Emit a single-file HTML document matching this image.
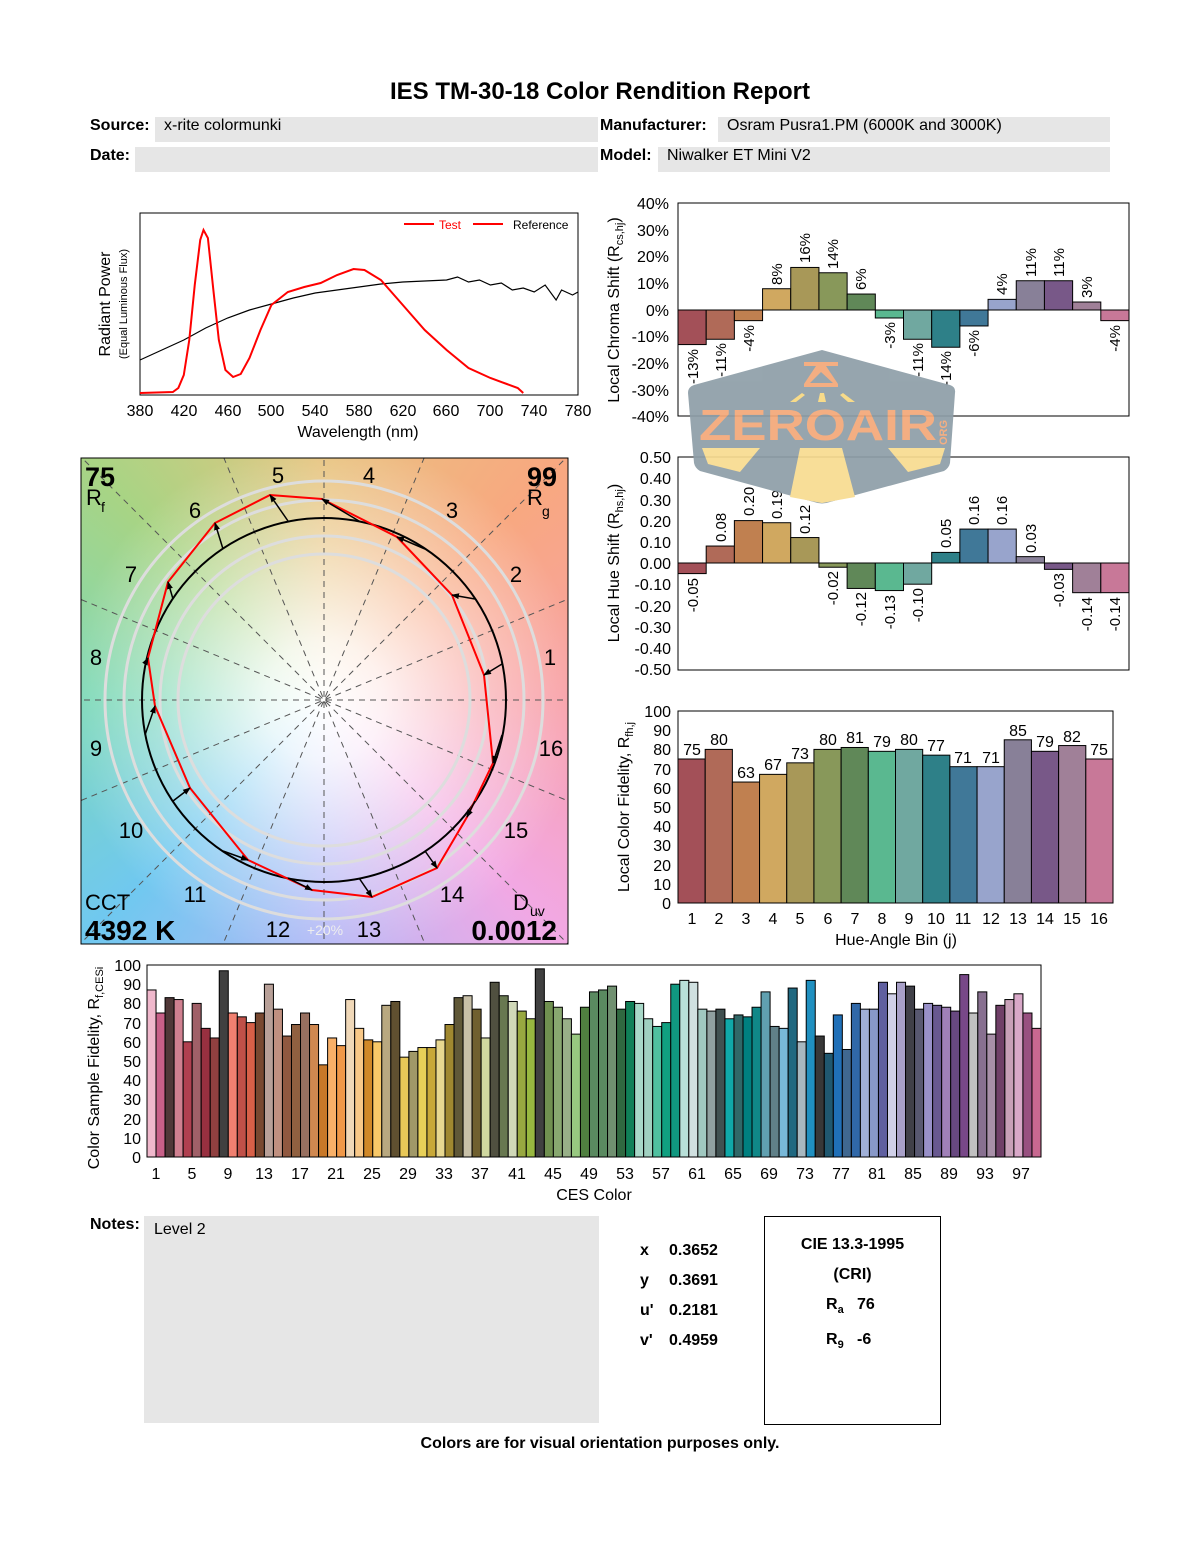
<!DOCTYPE html>
<html><head><meta charset="utf-8"><style>
body{margin:0;background:#fff;}
#p{position:relative;width:1200px;height:1550px;font-family:"Liberation Sans",sans-serif;color:#000;overflow:hidden}
.a{position:absolute;white-space:nowrap}
.box{position:absolute;background:#e6e6e6}
#vg{position:absolute;left:81px;top:458px;width:487px;height:486px;
background:radial-gradient(circle at 50% 50%,rgba(255,255,255,1) 0px,rgba(255,255,255,0.85) 60px,rgba(255,255,255,0.35) 170px,rgba(255,255,255,0) 260px),
conic-gradient(from 0deg at 50% 50%,#e8c480 0deg,#f8a880 45deg,#f8a0a8 90deg,#f2a8e4 135deg,#b4b8f6 180deg,#70c8f0 225deg,#7cd8b8 270deg,#a8d484 315deg,#e8c480 360deg);}
</style></head><body><div id="p">
<div class="a" style="left:0;width:1200px;text-align:center;top:78px;font-size:24px;font-weight:bold">IES TM-30-18 Color Rendition Report</div>
<div class="box" style="left:155px;top:117px;width:443px;height:25px"></div>
<div class="box" style="left:718px;top:117px;width:392px;height:25px"></div>
<div class="box" style="left:135px;top:147px;width:463px;height:25px"></div>
<div class="box" style="left:658px;top:147px;width:452px;height:25px"></div>
<div class="a" style="left:90px;top:117px;font-size:16px;font-weight:bold">Source:</div>
<div class="a" style="left:164px;top:117px;font-size:16px">x-rite colormunki</div>
<div class="a" style="left:600px;top:117px;font-size:16px;font-weight:bold">Manufacturer:</div>
<div class="a" style="left:727px;top:117px;font-size:16px">Osram Pusra1.PM (6000K and 3000K)</div>
<div class="a" style="left:90px;top:147px;font-size:16px;font-weight:bold">Date:</div>
<div class="a" style="left:600px;top:147px;font-size:16px;font-weight:bold">Model:</div>
<div class="a" style="left:667px;top:147px;font-size:16px">Niwalker ET Mini V2</div>

<div id="vg"></div>

<svg width="1200" height="1550" style="position:absolute;left:0;top:0" font-family="Liberation Sans, sans-serif">
<defs>
<marker id="ah" markerWidth="8" markerHeight="8" refX="7" refY="4" orient="auto" markerUnits="userSpaceOnUse"><path d="M0,1 L8,4 L0,7 z" fill="#000"/></marker>
<clipPath id="vc"><rect x="81" y="458" width="487" height="486"/></clipPath>
</defs>
<!-- spectrum -->
<rect x="140" y="213" width="438" height="182" fill="none" stroke="#000" stroke-width="1"/>
<g transform="translate(-276.1,0) scale(1.095,1)" fill="none">
<polyline vector-effect="non-scaling-stroke" stroke="#000" stroke-width="1.2" points="380,360 400,350 420,340 440,328 460,318 480,310 500,304 520,298 540,293 560,290 580,287 600,284 620,282 640,281 660,280 670,277 680,282 690,280 700,285 710,283 720,290 730,288 740,292 750,285 760,300 765,290 775,295 780,292"/>
<polyline vector-effect="non-scaling-stroke" stroke="#f00" stroke-width="2" points="380,393 410,392 415,388 420,375 425,340 430,285 435,240 438,230 442,238 447,290 452,340 458,370 465,377 472,374 480,358 490,330 500,305 515,292 530,287 545,283 560,275 575,269 585,270 600,280 620,305 640,330 660,350 680,368 700,378 715,384 725,388 730,393"/>
</g>
<line x1="404" y1="224" x2="434" y2="224" stroke="#f00" stroke-width="2"/><text x="439" y="229" font-size="12" fill="#f00">Test</text>
<line x1="473" y1="224" x2="503" y2="224" stroke="#f00" stroke-width="2"/><text x="513" y="229" font-size="12">Reference</text>
<g font-size="16" text-anchor="middle">
<text x="140" y="416">380</text><text x="184" y="416">420</text><text x="228" y="416">460</text><text x="271" y="416">500</text><text x="315" y="416">540</text><text x="359" y="416">580</text><text x="403" y="416">620</text><text x="446" y="416">660</text><text x="490" y="416">700</text><text x="534" y="416">740</text><text x="578" y="416">780</text>
<text x="358" y="437">Wavelength (nm)</text>
<text transform="translate(110,304) rotate(-90)">Radiant Power</text>
<text transform="translate(127,304) rotate(-90)" font-size="11">(Equal Luminous Flux)</text>
</g>

<!-- vector graphic -->
<g clip-path="url(#vc)">
<g stroke="#555" stroke-width="1" stroke-dasharray="6,5">
<line x1="-26" y1="700" x2="674" y2="700"/><line x1="324" y1="350" x2="324" y2="1050"/>
<line x1="0" y1="566" x2="648" y2="834"/><line x1="0" y1="834" x2="648" y2="566"/>
<line x1="190" y1="376" x2="458" y2="1024"/><line x1="458" y1="376" x2="190" y2="1024"/>
<line x1="77" y1="453" x2="571" y2="947"/><line x1="571" y1="453" x2="77" y2="947"/>
</g>
<g fill="none" stroke="#ddd" stroke-width="3">
<circle cx="324" cy="700" r="146"/><circle cx="324" cy="700" r="164"/><circle cx="324" cy="700" r="200"/><circle cx="324" cy="700" r="219"/>
</g>
<circle cx="324" cy="700" r="182" fill="none" stroke="#000" stroke-width="2"/>
<polygon fill="none" stroke="#f00" stroke-width="2" points="484,675 452,595 397,537 322,499 270,495 215,523 168,582 148,658 155,706 190,788 248,860 312,890 372,897 437,868 467,817 493,763"/>
<g stroke="#000" stroke-width="1.5" marker-end="url(#ah)">
<line x1="502" y1="664" x2="484" y2="675"/><line x1="475" y1="599" x2="452" y2="595"/><line x1="425" y1="549" x2="397" y2="537"/><line x1="359" y1="521" x2="322" y2="499"/><line x1="288" y1="521" x2="270" y2="495"/><line x1="223" y1="549" x2="215" y2="523"/><line x1="173" y1="599" x2="168" y2="582"/><line x1="145" y1="664" x2="148" y2="658"/><line x1="145" y1="735" x2="155" y2="706"/><line x1="173" y1="801" x2="190" y2="788"/><line x1="223" y1="851" x2="248" y2="860"/><line x1="288" y1="878" x2="312" y2="890"/><line x1="359" y1="878" x2="372" y2="897"/><line x1="425" y1="851" x2="437" y2="868"/><line x1="475" y1="801" x2="467" y2="817"/><line x1="502" y1="735" x2="493" y2="763"/>
</g>
</g>
<rect x="81" y="458" width="487" height="486" fill="none" stroke="#000" stroke-width="1"/>
<g font-size="22" text-anchor="middle">
<text x="550" y="665">1</text><text x="516" y="582">2</text><text x="452" y="518">3</text><text x="369" y="483">4</text><text x="278" y="483">5</text><text x="195" y="518">6</text><text x="131" y="582">7</text><text x="96" y="665">8</text><text x="96" y="756">9</text><text x="131" y="838">10</text><text x="195" y="902">11</text><text x="278" y="937">12</text><text x="369" y="937">13</text><text x="452" y="902">14</text><text x="516" y="838">15</text><text x="551" y="756">16</text>
</g>
<text x="325" y="935" font-size="14" fill="#eee" text-anchor="middle">+20%</text>
<text x="85" y="486" font-size="27" font-weight="bold">75</text>
<text x="86" y="505" font-size="22">R</text><text x="101" y="512" font-size="14">f</text>
<text x="557" y="486" font-size="27" font-weight="bold" text-anchor="end">99</text>
<text x="527" y="505" font-size="22">R</text><text x="542" y="516" font-size="14">g</text>
<text x="85" y="910" font-size="22">CCT</text>
<text x="85" y="940" font-size="28" font-weight="bold">4392 K</text>
<text x="513" y="910" font-size="22">D</text><text x="530" y="916" font-size="14">uv</text>
<text x="557" y="940" font-size="28" font-weight="bold" text-anchor="end">0.0012</text>

<!-- chroma shift -->
<g id="cs"></g>
<rect x="678" y="203" width="451" height="213" fill="none" stroke="#000"/>
<line x1="678" y1="310" x2="1129" y2="310" stroke="#000"/>
<g font-size="16" text-anchor="end">
<text x="669" y="209">40%</text><text x="669" y="236">30%</text><text x="669" y="262">20%</text><text x="669" y="289">10%</text><text x="669" y="316">0%</text><text x="669" y="342">-10%</text><text x="669" y="369">-20%</text><text x="669" y="396">-30%</text><text x="669" y="422">-40%</text>
</g>
<text transform="translate(619,310) rotate(-90)" font-size="16" text-anchor="middle">Local Chroma Shift (R<tspan font-size="11" dy="4">cs,hj</tspan><tspan dy="-4">)</tspan></text>
<g font-size="15">
<text transform="translate(698,349) rotate(-90)" text-anchor="end">-13%</text>
<text transform="translate(726,343) rotate(-90)" text-anchor="end">-11%</text>
<text transform="translate(754,325) rotate(-90)" text-anchor="end">-4%</text>
<text transform="translate(782,285) rotate(-90)">8%</text>
<text transform="translate(810,263) rotate(-90)">16%</text>
<text transform="translate(838,269) rotate(-90)">14%</text>
<text transform="translate(866,290) rotate(-90)">6%</text>
<text transform="translate(895,322) rotate(-90)" text-anchor="end">-3%</text>
<text transform="translate(923,343) rotate(-90)" text-anchor="end">-11%</text>
<text transform="translate(951,351) rotate(-90)" text-anchor="end">-14%</text>
<text transform="translate(979,330) rotate(-90)" text-anchor="end">-6%</text>
<text transform="translate(1007,295) rotate(-90)">4%</text>
<text transform="translate(1036,277) rotate(-90)">11%</text>
<text transform="translate(1064,277) rotate(-90)">11%</text>
<text transform="translate(1092,298) rotate(-90)">3%</text>
<text transform="translate(1120,325) rotate(-90)" text-anchor="end">-4%</text>
</g>

<!-- hue shift -->
<g id="hs"></g>
<rect x="678" y="457" width="451" height="213" fill="none" stroke="#000"/>
<line x1="678" y1="563" x2="1129" y2="563" stroke="#000"/>
<g font-size="16" text-anchor="end">
<text x="671" y="463">0.50</text><text x="671" y="484">0.40</text><text x="671" y="506">0.30</text><text x="671" y="527">0.20</text><text x="671" y="548">0.10</text><text x="671" y="569">0.00</text><text x="671" y="590">-0.10</text><text x="671" y="612">-0.20</text><text x="671" y="633">-0.30</text><text x="671" y="654">-0.40</text><text x="671" y="675">-0.50</text>
</g>
<text transform="translate(619,563) rotate(-90)" font-size="16" text-anchor="middle">Local Hue Shift (R<tspan font-size="11" dy="4">hs,hj</tspan><tspan dy="-4">)</tspan></text>
<g font-size="15">
<text transform="translate(698,578) rotate(-90)" text-anchor="end">-0.05</text>
<text transform="translate(726,542) rotate(-90)">0.08</text>
<text transform="translate(754,516) rotate(-90)">0.20</text>
<text transform="translate(782,519) rotate(-90)">0.19</text>
<text transform="translate(810,534) rotate(-90)">0.12</text>
<text transform="translate(838,571) rotate(-90)" text-anchor="end">-0.02</text>
<text transform="translate(866,592) rotate(-90)" text-anchor="end">-0.12</text>
<text transform="translate(895,595) rotate(-90)" text-anchor="end">-0.13</text>
<text transform="translate(923,588) rotate(-90)" text-anchor="end">-0.10</text>
<text transform="translate(951,548) rotate(-90)">0.05</text>
<text transform="translate(979,525) rotate(-90)">0.16</text>
<text transform="translate(1007,525) rotate(-90)">0.16</text>
<text transform="translate(1036,553) rotate(-90)">0.03</text>
<text transform="translate(1064,573) rotate(-90)" text-anchor="end">-0.03</text>
<text transform="translate(1092,597) rotate(-90)" text-anchor="end">-0.14</text>
<text transform="translate(1120,597) rotate(-90)" text-anchor="end">-0.14</text>
</g>

<!-- Rf -->
<g id="rf"></g>
<rect x="678" y="711" width="435" height="192" fill="none" stroke="#000"/>
<g font-size="16" text-anchor="end">
<text x="671" y="717">100</text><text x="671" y="736">90</text><text x="671" y="755">80</text><text x="671" y="775">70</text><text x="671" y="794">60</text><text x="671" y="813">50</text><text x="671" y="832">40</text><text x="671" y="851">30</text><text x="671" y="871">20</text><text x="671" y="890">10</text><text x="671" y="909">0</text>
</g>
<g font-size="16" text-anchor="middle">
<text x="692" y="755">75</text><text x="719" y="745">80</text><text x="746" y="778">63</text><text x="773" y="770">67</text><text x="800" y="759">73</text><text x="828" y="745">80</text><text x="855" y="743">81</text><text x="882" y="747">79</text><text x="909" y="745">80</text><text x="936" y="751">77</text><text x="963" y="763">71</text><text x="991" y="763">71</text><text x="1018" y="736">85</text><text x="1045" y="747">79</text><text x="1072" y="742">82</text><text x="1099" y="755">75</text>
<text x="692" y="924">1</text><text x="719" y="924">2</text><text x="746" y="924">3</text><text x="773" y="924">4</text><text x="800" y="924">5</text><text x="828" y="924">6</text><text x="855" y="924">7</text><text x="882" y="924">8</text><text x="909" y="924">9</text><text x="936" y="924">10</text><text x="963" y="924">11</text><text x="991" y="924">12</text><text x="1018" y="924">13</text><text x="1045" y="924">14</text><text x="1072" y="924">15</text><text x="1099" y="924">16</text>
<text x="896" y="945">Hue-Angle Bin (j)</text>
<text transform="translate(629,807) rotate(-90)">Local Color Fidelity, R<tspan font-size="11" dy="4">fh,j</tspan></text>
</g>

<!-- CES -->
<g id="ces"></g>
<rect x="147" y="965" width="894" height="192" fill="none" stroke="#000"/>
<g font-size="16" text-anchor="end">
<text x="141" y="971">100</text><text x="141" y="990">90</text><text x="141" y="1009">80</text><text x="141" y="1029">70</text><text x="141" y="1048">60</text><text x="141" y="1067">50</text><text x="141" y="1086">40</text><text x="141" y="1105">30</text><text x="141" y="1125">20</text><text x="141" y="1144">10</text><text x="141" y="1163">0</text>
</g>
<g font-size="16" text-anchor="middle">
<text x="156" y="1179">1</text><text x="192" y="1179">5</text><text x="228" y="1179">9</text><text x="264" y="1179">13</text><text x="300" y="1179">17</text><text x="336" y="1179">21</text><text x="372" y="1179">25</text><text x="408" y="1179">29</text><text x="444" y="1179">33</text><text x="480" y="1179">37</text><text x="517" y="1179">41</text><text x="553" y="1179">45</text><text x="589" y="1179">49</text><text x="625" y="1179">53</text><text x="661" y="1179">57</text><text x="697" y="1179">61</text><text x="733" y="1179">65</text><text x="769" y="1179">69</text><text x="805" y="1179">73</text><text x="841" y="1179">77</text><text x="877" y="1179">81</text><text x="913" y="1179">85</text><text x="949" y="1179">89</text><text x="985" y="1179">93</text><text x="1021" y="1179">97</text>
<text x="594" y="1200">CES Color</text>
<text transform="translate(99,1068) rotate(-90)">Color Sample Fidelity, R<tspan font-size="11" dy="4">f,CESi</tspan></text>
</g>

<!-- watermark -->
<g opacity="0.92">
<path d="M822,350 L950,385 Q956,387 955,393 L950,463 Q949,468 944,471 L830,502 Q822,505 814,502 L700,471 Q695,468 694,463 L688,393 Q688,387 694,385 Z" fill="#8e9ea8"/>
<path d="M804,362 L838,362 L838,366 L826,366 L838,384 L838,387 L804,387 L804,384 L816,366 L804,366 Z" fill="#f4a878"/>
<path d="M810,383 L833,383 L821,372 Z" fill="#8e9ea8"/>
<path d="M790,402 L802,393 L805,395 L796,402 Z M818,402 L820,393 L824,393 L826,402 Z M848,402 L840,395 L843,393 L855,402 Z" fill="#f8d880"/>
<text x="818" y="440" font-size="44" font-weight="bold" fill="#f4a878" text-anchor="middle" textLength="238" lengthAdjust="spacingAndGlyphs">ZEROAIR</text>
<text transform="translate(947,445) rotate(-90)" font-size="11" font-weight="bold" fill="#f4a878">ORG</text>
<path d="M702,448 L760,448 L740,472 L708,464 Z M800,448 L842,448 L855,497 L822,503 L790,497 Z M888,448 L945,448 L940,464 L908,472 Z" fill="#f8dc90"/>
</g>
</svg>

<div class="a" style="left:90px;top:1216px;font-size:16px;font-weight:bold">Notes:</div>
<div class="box" style="left:144px;top:1216px;width:455px;height:207px"></div>
<div class="a" style="left:154px;top:1221px;font-size:16px">Level 2</div>
<div class="a" style="left:640px;top:1236px;font-size:16px;font-weight:bold;line-height:30px">x<br>y<br>u'<br>v'</div>
<div class="a" style="left:669px;top:1236px;font-size:16px;font-weight:bold;line-height:30px">0.3652<br>0.3691<br>0.2181<br>0.4959</div>
<div class="a" style="left:764px;top:1216px;width:175px;height:207px;border:1px solid #000"></div>
<div class="a" style="left:764px;top:1230px;width:177px;text-align:center;font-size:16px;font-weight:bold;line-height:30px">CIE 13.3-1995<br>(CRI)</div>
<div class="a" style="left:826px;top:1290px;font-size:16px;font-weight:bold;line-height:30px">R<sub style="font-size:11px">a</sub>&nbsp;&nbsp;&nbsp;76<br>R<sub style="font-size:11px">9</sub>&nbsp;&nbsp;&nbsp;-6</div>
<div class="a" style="left:0;width:1200px;text-align:center;top:1435px;font-size:16px;font-weight:bold">Colors are for visual orientation purposes only.</div>
</div>
<script>
var NS="http://www.w3.org/2000/svg";
function R(g,x,y,w,h,c){var r=document.createElementNS(NS,"rect");r.setAttribute("x",x);r.setAttribute("y",y);r.setAttribute("width",w);r.setAttribute("height",Math.max(h,0.5));r.setAttribute("fill",c);r.setAttribute("stroke","#000");r.setAttribute("stroke-width","1");document.getElementById(g).appendChild(r);}
var bc=["#a35058","#b06a58","#c08050","#d0a860","#a89858","#88985a","#608858","#5ab890","#70a8a0","#2e8088","#407898","#98a4cc","#888098","#785888","#a08098","#c87898"];
var cs=[-13,-11,-4,8,16,14,6,-3,-11,-14,-6,4,11,11,3,-4];
var hs=[-.05,.08,.20,.19,.12,-.02,-.12,-.13,-.10,.05,.16,.16,.03,-.03,-.14,-.14];
var rf=[75,80,63,67,73,80,81,79,80,77,71,71,85,79,82,75];
var w=451/16;
for(var j=0;j<16;j++){var x=678+j*w;
 var v=cs[j]*2.66;R("cs",x,v>0?310-v:310,w,Math.abs(v),bc[j]);
 v=hs[j]*212;R("hs",x,v>0?563-v:563,w,Math.abs(v),bc[j]);
 var h=rf[j]*1.92;R("rf",678+j*435/16,903-h,435/16,h,bc[j]);}
var cv=[87,75,83,82,60,80,67,62,97,75,73,70,75,90,77,63,69,75,69,48,62,58,82,67,61,60,79,81,52,55,57,57,61,69,83,84,77,62,91,84,81,76,72,98,81,78,72,64,78,86,87,89,77,81,80,72,68,70,90,92,91,77,76,77,72,74,73,78,86,68,67,88,60,92,63,54,74,56,80,77,77,91,85,91,89,77,80,79,78,76,95,75,86,64,79,82,85,75,67];
var cc=["#f0b8cc","#c86088","#503838","#d08090","#b04050","#a06068","#983040","#904040","#404040","#f08070","#c05048","#d86048","#784830","#b8a098","#c09080","#905840","#906040","#987060","#d08850","#c87828","#f8b068","#f09848","#f0d8b8","#f8c888","#d08828","#f8c868","#b8a880","#605030","#e8c858","#a09868","#e8d058","#c8a838","#e8d890","#a08830","#605838","#c8c0a8","#706030","#d0d8a0","#505040","#687850","#d0d8b8","#98a840","#98b840","#404040","#709050","#88a870","#98b088","#98c880","#508040","#5a8a60","#5a8a60","#709070","#306840","#108058","#a8d8c8","#a0d0c0","#50c0a0","#10a080","#109880","#b8e0d8","#d0e0e0","#a0c8c0","#90a0a0","#405050","#10a8a8","#306868","#008080","#108888","#60a0b0","#608088","#78b8d8","#206880","#a8b8c0","#2090c0","#383838","#205870","#2070b8","#406890","#3068a8","#a0b0d8","#8898c8","#6060a0","#d0d0e8","#a8a0c8","#404048","#585870","#9890c8","#685890","#a080b8","#684880","#784888","#c0c0c0","#887090","#a890a8","#704068","#c8a0b8","#d8a8c8","#985080","#c86890"];
var cw=894/99;
for(var i=0;i<99;i++){var h=cv[i]*1.92;R("ces",147+i*cw,1157-h,cw,h,cc[i]);}
</script>
</body></html>
